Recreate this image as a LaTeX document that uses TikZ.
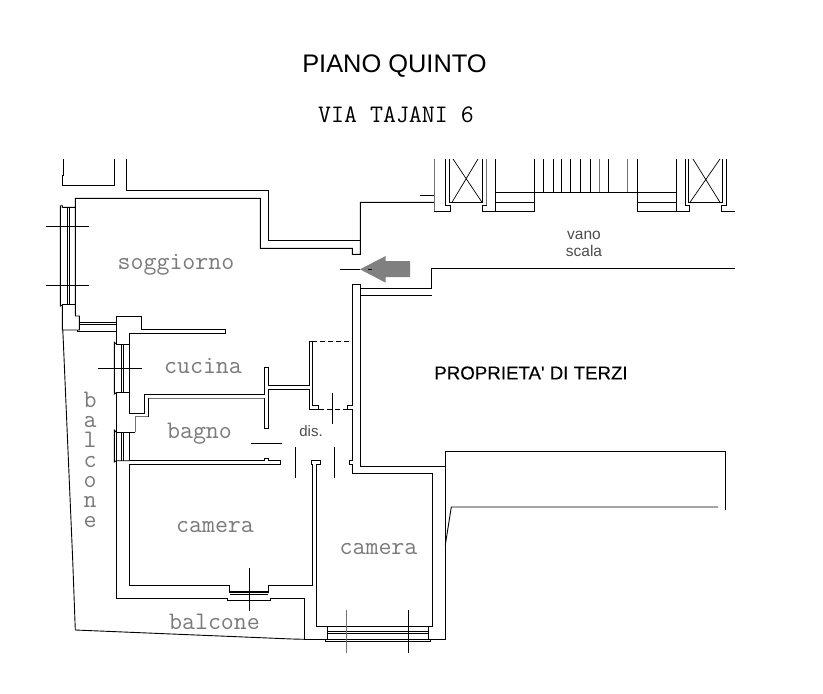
\documentclass[tikz,border=0pt]{standalone}
\usepackage{fontspec}
\setmainfont{Liberation Sans}
\newfontfamily\terzifont[FakeBold=0.25]{Liberation Sans}
\usepackage{tikz}

\begin{document}
\begin{tikzpicture}[x=1pt, y=-1pt]
    \tikzstyle{wall} = [draw=black, line width=0.9pt, line join=miter]
    \tikzstyle{thin} = [draw=black, line width=0.7pt]
    \tikzstyle{faint} = [draw=black!55, line width=0.8pt]
    \tikzstyle{room} = [text=black!52, font=\fontsize{25.2}{25.2}\selectfont\ttfamily, inner sep=0pt]
    \tikzstyle{lbl} = [text=black, inner sep=0pt]
    \useasboundingbox (0,0) rectangle (823,694);

    \node [lbl, font=\fontsize{25.4}{26}\selectfont] (title) at (394.5,66) {PIANO QUINTO};
    \node [lbl, font=\fontsize{25.2}{25.2}\selectfont\ttfamily] (street) at (396,115) {VIA TAJANI 6};
    \node [room] (soggiorno) at (176,265) {soggiorno};
    \node [room] (cucina) at (203,366) {cucina};
    \node [room] (bagno) at (199.5,434) {bagno};
    \node [room] (cameraA) at (215,527) {camera};
    \node [room] (cameraB) at (378.5,549) {camera};
    \node [room] (balconeB) at (214.5,622) {balcone};
    \foreach \letter [count=\i from 0] in {b,a,l,c,o,n,e}
        \node [room, anchor=base] (balconeA\i) at (90,407.5+20*\i) {\letter};
    \node [lbl, font=\fontsize{18.7}{20}\selectfont\terzifont] (terzi) at (531,373) {PROPRIETA' DI TERZI};
    \node [lbl, align=center, font=\fontsize{15.5}{16.5}\selectfont, text=black!70] (vano) at (584,244) {vano\\scala};
    \node [lbl, font=\fontsize{15}{15}\selectfont, text=black!70] (dis) at (311,431) {dis.};

    % soggiorno
    \draw [wall] (63.3,159) -- (63.3,175) -- (62.3,175) -- (62.3,185) -- (114.3,185) -- (114.3,159);
    \draw [wall] (126.3,159) -- (126.3,190.3) -- (268.3,190.3) -- (268.3,240.3) -- (360.3,240.3);
    \draw [wall] (434.3,202.3) -- (360.3,202.3) -- (360.3,254.3) -- (352.3,254.3) -- (352.3,248.3) -- (260.3,248.3) -- (260.3,198.3) -- (75.3,198.3) -- (75.3,316) -- (79.3,316) -- (79.3,330) -- (62.3,330) -- (62.3,305) -- (60.3,306) -- (60.3,205.7) -- (62.3,205.7) -- (62.3,207.3) -- (75.3,207.3);
    \draw [wall] (62.3,304) -- (75.3,304);
    \draw [thin] (67.3,207.3) -- (67.3,304) (69.3,207.3) -- (69.3,304);
    \draw [thin] (46,226) -- (89,226) (46,285.3) -- (89,285.3);
    \draw [wall] (79.3,322.5) -- (116.3,322.5) (79.3,324.5) -- (116.3,324.5) (77.3,331.5) -- (116.3,331.5) (77.3,330) -- (77.3,331.5);

    % outer balcony
    \draw [wall] (62.8,330) -- (63.3,341) (72.7,560) -- (63.3,341) (72.7,560) -- (75.3,630) -- (292,639) -- (304.3,639.3);

    % cucina, bagno
    \draw [wall] (129.3,344) -- (129.3,333.3) -- (225.3,333.3) -- (225.3,329.3) -- (141.3,329.3) -- (141.3,316) -- (116.3,316) -- (116.3,344) -- (129.3,344);
    \draw [wall] (129.3,344) -- (129.3,413.3) -- (144.3,413.3) -- (144.3,394.3) -- (264.3,394.3) -- (264.3,367.3) -- (268.3,367.3) -- (268.3,385.3) -- (309.3,385.3) -- (309.3,341.3) -- (312.3,341.3) -- (312.3,405) -- (318.7,405) -- (318.7,409.3) -- (309.3,409.3) -- (309.3,389.7) -- (268.3,389.7) -- (268.3,428.3) -- (264.3,428.3) -- (264.3,398.3);
    \draw [faint] (264.3,398.3) -- (148.7,398.3) -- (148.7,416.7) -- (135.3,416.7) -- (135.3,432.3);
    \draw [wall] (148.7,398.3) -- (148.7,416.7) (135.3,432.3) -- (116.3,432.3) -- (116.3,392.7) -- (129.3,392.7);
    \draw [wall] (116.3,344) -- (114.3,342.3) -- (114.3,394) -- (116.3,392.7);
    \draw [thin] (121.3,344) -- (121.3,392.7) (123.3,344) -- (123.3,392.7);
    \draw [thin] (98,368.3) -- (142,368.3);
    \draw [wall] (129.3,432.3) -- (129.3,460) -- (264,460) -- (264,458) -- (268.3,458) -- (268.3,460) -- (280.3,460) -- (280.3,464.3) -- (129.3,464.3) -- (129.3,585.3) -- (229.7,585.3) -- (229.7,592) -- (268.3,592) -- (268.3,585.3) -- (312.3,585.3) -- (312.3,464.3) -- (311.3,464.3) -- (311.3,460.3) -- (320,460.3) -- (320,464.3) -- (316.3,464.3) -- (316.3,626.3) -- (432.7,626.3) -- (432.7,473.3) -- (352.3,473.3) -- (352.3,464.3) -- (349.3,464.3) -- (349.3,460.3) -- (352.3,460.3) -- (352.3,409.3) -- (347.3,409.3) -- (347.3,405) -- (352.3,405) -- (352.3,284.3) -- (360.3,284.3) -- (360.3,466.3) -- (445.3,466.3) -- (445.3,639.3) -- (430.7,639.3) -- (430.7,641.3) -- (325.7,641.3) -- (325.7,639.3) -- (304.3,639.3) -- (304.3,598.3) -- (270.7,598.3) -- (270.7,600.3) -- (227.3,600.3) -- (227.3,598.3) -- (116.3,598.3) -- (116.3,432.3);
    \draw [wall] (116.3,432.3) -- (114.3,430) -- (114.3,462) -- (116.3,460.7) -- (129.3,460.7);
    \draw [thin] (121.3,432.3) -- (121.3,460.7) (123.3,432.3) -- (123.3,460.7);
    \draw [thin] (229.7,591.7) -- (268.3,591.7) (229.7,594) -- (268.3,594);
    \draw [thin] (249.3,568) -- (249.3,611);

    % bottom window
    \draw [wall] (327.7,626.3) -- (327.7,639.3) (428.3,626.3) -- (428.3,639.3);
    \draw [wall] (327.7,631) -- (428.3,631) (327.7,633) -- (428.3,633);
    \draw [wall] (325.7,639.3) -- (430.7,639.3);
    \draw [faint] (346.3,610) -- (346.3,652.7);
    \draw [thin] (408.3,610) -- (408.3,652.7);

    % disimpegno
    \draw [wall, dashed, dash pattern=on 5pt off 3pt] (312.3,341.3) -- (352.3,341.3) (318.7,409.3) -- (347.3,409.3);
    \draw [thin] (332.3,393.3) -- (332.3,424.3) (251,443.3) -- (282,443.3) (295.3,447) -- (295.3,477.7) (334.3,447) -- (334.3,477.7);

    % ingresso
    \draw [wall] (360.3,288.3) -- (431.3,288.3) -- (431.3,268.3) -- (735,268.3) (360.3,295.3) -- (431.7,295.3);
    \draw [thin] (340,269.3) -- (360.3,269.3);
    \fill [black!50] (360,269.3) -- (385.7,256) -- (385.7,261) -- (410,261) -- (410,277) -- (385.7,277) -- (385.7,282.7) -- cycle;
    \draw [thin] (368.3,269.3) -- (372,269.3);

    % proprieta
    \draw [wall] (445.3,466.3) -- (445.3,451.3) -- (725,451.3) -- (725,510);
    \draw [wall] (718,507) -- (451.3,507) -- (445.3,545);

    % vano scala
    \draw [wall] (420,195) -- (434.3,195);
    \draw [faint] (434.3,159) -- (434.3,211.3);
    \draw [wall] (434.3,211.3) -- (450,211.3) -- (450,205.7) -- (445,205.7) -- (445,159);
    \draw [wall] (449.3,159) -- (449.3,202.3) -- (482.3,202.3) -- (482.3,159);
    \draw [thin] (452,202.3) -- (478,159) (482,202.3) -- (453,159);
    \draw [wall] (482.3,211.3) -- (482.3,205.7) -- (486,205.7) -- (486,159);
    \draw [faint] (486.3,159) -- (486.3,205);
    \draw [wall] (482.3,211.3) -- (534.7,211.3) (495.3,159) -- (495.3,211.3) (534.7,159) -- (534.7,211.3);
    \draw [wall] (495.3,192.3) -- (676.3,192.3) (495.3,202.3) -- (534.7,202.3);
    \foreach \stepx in {543.3,553.3,561,570.7,580.7,590,608.3,637.3}
        \draw [wall] (\stepx,159) -- (\stepx,192.3);
    \foreach \stepx in {599.3,627.3}
        \draw [faint] (\stepx,159) -- (\stepx,192.3);
    \draw [wall] (637.3,159) -- (637.3,211.3) -- (689.3,211.3) -- (689.3,205.7) -- (685,205.7) -- (685,159);
    \draw [wall] (637.3,202.3) -- (676.3,202.3) (676.3,159) -- (676.3,211.3);
    \draw [wall] (688.3,159) -- (688.3,202.3) -- (722.7,202.3) -- (722.7,159);
    \draw [thin] (690,202.3) -- (720,159) (720,202.3) -- (693,159);
    \draw [wall] (726.3,159) -- (726.3,205.7) -- (721.7,205.7) -- (721.7,211.3) -- (734.7,211.3);
\end{tikzpicture}
\end{document}
